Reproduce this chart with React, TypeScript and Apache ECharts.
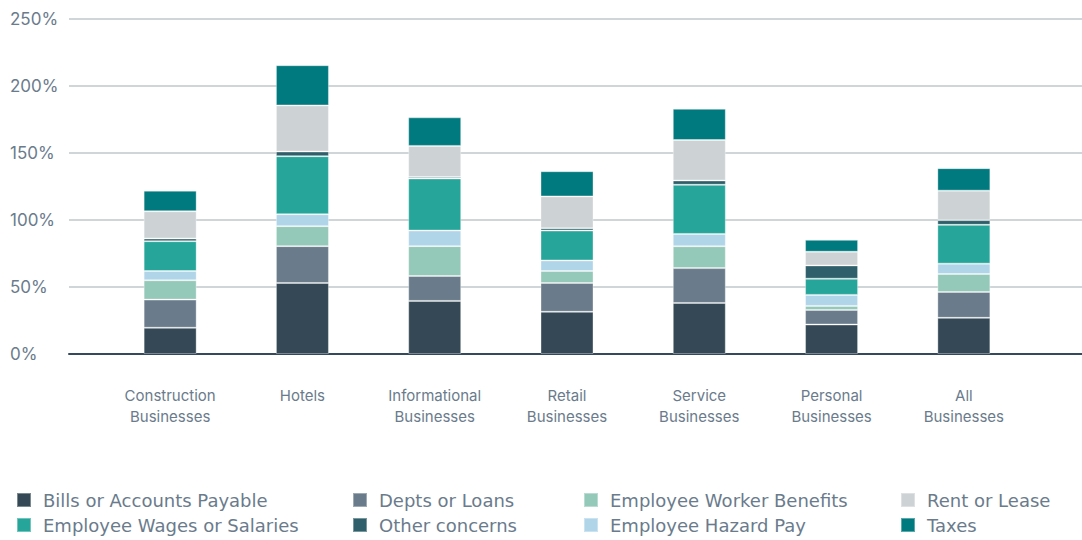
import React, { useEffect, useRef } from "react";
import * as echarts from "echarts";

const categories = [
  "Construction\nBusinesses",
  "Hotels",
  "Informational\nBusinesses",
  "Retail\nBusinesses",
  "Service\nBusinesses",
  "Personal\nBusinesses",
  "All\nBusinesses",
];

const seriesNames = [
  "Bills or Accounts Payable",
  "Depts or Loans",
  "Employee Worker Benefits",
  "Employee Hazard Pay",
  "Employee Wages or Salaries",
  "Other concerns",
  "Rent or Lease",
  "Taxes",
];

const bills = [19.6, 53.0, 39.6, 31.5, 38.1, 22.0, 27.0];
const depts = [21.0, 27.5, 18.6, 21.5, 26.0, 10.9, 19.3];
const benefits = [14.4, 14.9, 22.3, 8.9, 16.3, 3.0, 13.4];
const hazard = [6.9, 8.9, 11.6, 7.9, 9.2, 8.2, 7.7];
const wages = [22.3, 43.3, 38.9, 22.3, 36.7, 12.1, 29.0];
const other = [2.0, 3.5, 1.0, 1.7, 3.2, 9.9, 3.5];
const rent = [20.3, 34.4, 23.3, 23.8, 30.2, 10.2, 22.0];
const taxes = [15.4, 30.0, 21.3, 18.8, 23.3, 8.9, 16.8];

const seriesData = [bills, depts, benefits, hazard, wages, other, rent, taxes];
const colors = ["#344955", "#6a7b8b", "#94c8b8", "#b0d4e8", "#26a69a", "#2f5f6a", "#cdd2d4", "#007a7e"];

const yTicks = [0, 50, 100, 150, 200, 250];

const legendColumns = [
  { left: 16, names: [seriesNames[0], seriesNames[4]] },
  { left: 352, names: [seriesNames[1], seriesNames[5]] },
  { left: 583, names: [seriesNames[2], seriesNames[3]] },
  { left: 900, names: [seriesNames[6], seriesNames[7]] },
];

export default function App() {
  const ref = useRef<HTMLDivElement>(null);
  useEffect(() => {
    if (!ref.current) return;
    const chart = echarts.init(ref.current, null, { renderer: "svg" });
    const labelColor = "#6a7b8c";
    const font = "Inter, 'Noto Sans', sans-serif";
    chart.setOption({
      animation: false,
      color: colors,
      grid: [
        { left: 69, right: 0, top: 19, bottom: 186 },
        { left: 104, right: 52, top: 19, bottom: 186 },
      ],
      xAxis: [
        {
          gridIndex: 0,
          type: "value",
          min: 0,
          max: 1,
          axisLabel: { show: false },
          axisTick: { show: false },
          splitLine: { show: false },
          axisLine: { show: true, lineStyle: { color: "#34495e", width: 2 } },
        },
        {
          gridIndex: 1,
          type: "category",
          data: categories,
          axisLine: { show: false },
          axisTick: { show: false },
          axisLabel: {
            color: labelColor,
            fontSize: 15,
            lineHeight: 21,
            fontFamily: font,
            margin: 31,
            interval: 0,
          },
        },
      ],
      yAxis: [
        {
          gridIndex: 0,
          type: "value",
          min: yTicks[0],
          max: yTicks[yTicks.length - 1],
          interval: 50,
          axisLine: { show: false },
          axisTick: { show: false },
          axisLabel: {
            formatter: "{value}%",
            color: labelColor,
            fontSize: 17,
            fontFamily: font,
            align: "left",
            margin: 59,
          },
          splitLine: { lineStyle: { color: "#d0d5d8", width: 2 } },
        },
        {
          gridIndex: 1,
          type: "value",
          min: yTicks[0],
          max: yTicks[yTicks.length - 1],
          interval: 50,
          show: false,
          splitLine: { show: false },
        },
      ],
      legend: legendColumns.map((c) => ({
        orient: "vertical",
        left: c.left,
        top: 490,
        height: 60,
        padding: 0,
        itemWidth: 14,
        itemHeight: 14,
        itemGap: 5,
        icon: "rect",
        selectedMode: false,
        data: c.names,
        textStyle: {
          color: labelColor,
          fontSize: 18,
          lineHeight: 20,
          fontFamily: "'DejaVu Sans', sans-serif",
          padding: [0, 0, 0, 7],
        },
      })),
      series: seriesNames.map((name, i) => ({
        name,
        type: "bar",
        stack: "total",
        xAxisIndex: 1,
        yAxisIndex: 1,
        barWidth: 53,
        data: seriesData[i],
        itemStyle: { color: colors[i], borderColor: "rgba(255,255,255,0.35)", borderWidth: 1 },
      })),
    });
    return () => chart.dispose();
  }, []);
  return <div ref={ref} style={{ width: 1082, height: 540, position: "absolute", left: 0, top: 0 }} />;
}
